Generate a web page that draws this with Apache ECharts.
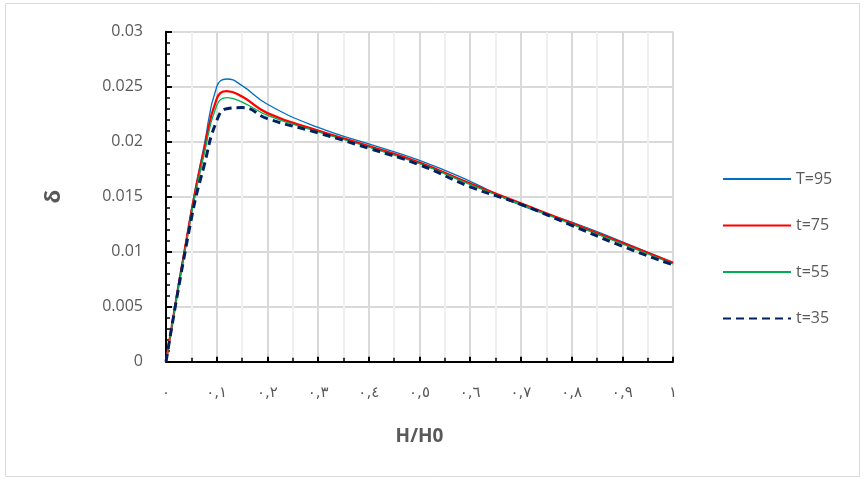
<!DOCTYPE html>
<html>
<head>
<meta charset="utf-8">
<script src="https://cdn.jsdelivr.net/npm/echarts@6/dist/echarts.min.js"></script>
<style>
  html, body { margin: 0; padding: 0; background: #fff; }
  #chart { width: 866px; height: 481px; }
</style>
</head>
<body>
<div id="chart"></div>
<script>
// H/H0 positions where the curves were sampled
const hRatio = [0, 0.05, 0.075, 0.1, 0.12, 0.15, 0.2, 0.3, 0.4, 0.5, 0.6, 0.7, 0.8, 0.9, 1.0];

// δ for each temperature
const deltaT95 = [0, 0.0138, 0.0196, 0.0250, 0.0257, 0.0251, 0.0234, 0.0213, 0.0198, 0.0183, 0.0164, 0.0142, 0.0127, 0.0109, 0.0090];
const deltaT75 = [0, 0.0136, 0.0192, 0.0239, 0.0246, 0.0241, 0.0226, 0.0210, 0.0196, 0.0181, 0.0162, 0.0144, 0.0126, 0.0108, 0.0090];
const deltaT55 = [0, 0.0134, 0.0188, 0.0233, 0.0240, 0.0236, 0.0224, 0.0209, 0.0195, 0.0180, 0.0161, 0.0143, 0.0125, 0.0107, 0.0089];
const deltaT35 = [0, 0.0130, 0.0178, 0.0219, 0.0230, 0.0231, 0.0221, 0.0208, 0.0194, 0.0179, 0.0159, 0.0143, 0.0124, 0.0105, 0.0088];

const seriesNames = ['T=95', 't=75', 't=55', 't=35'];

// x tick labels in Arabic-Indic digits
const xTickLabels = ['٠', '٠,١', '٠,٢', '٠,٣', '٠,٤', '٠,٥', '٠,٦', '٠,٧', '٠,٨', '٠,٩', '١'];

const pairs = ys => hRatio.map((x, i) => [x, ys[i]]);
const textColor = '#595959';

const chart = echarts.init(document.getElementById('chart'));
chart.setOption({
  animation: false,
  backgroundColor: '#fff',
  graphic: [{
    type: 'rect',
    shape: { x: 5.5, y: 3.5, width: 854, height: 473 },
    style: { fill: 'none', stroke: '#d9d9d9', lineWidth: 1 },
    silent: true
  }],
  grid: { left: 166, right: 193, top: 31.7, bottom: 119.3, containLabel: false },
  legend: {
    orient: 'vertical',
    left: 717,
    top: 166,
    itemWidth: 68,
    itemHeight: 14,
    itemGap: 30.5,
    itemStyle: { opacity: 0 },
    textStyle: { color: textColor, fontSize: 16, fontFamily: 'Open Sans' },
    data: seriesNames
  },
  xAxis: {
    type: 'value',
    min: 0,
    max: 1,
    interval: 0.1,
    name: 'H/H0',
    nameLocation: 'middle',
    nameGap: 65,
    nameTextStyle: { color: textColor, fontSize: 19, fontWeight: 'bold', fontFamily: 'Open Sans' },
    axisLine: { show: true, lineStyle: { color: '#000', width: 2 } },
    axisTick: { show: true, inside: true, length: 5, lineStyle: { color: '#000', width: 2 } },
    minorTick: { show: true, splitNumber: 2, length: 4, lineStyle: { color: '#000', width: 1.5 } },
    axisLabel: {
      color: textColor,
      fontSize: 15,
      fontFamily: 'DejaVu Sans',
      margin: 24,
      formatter: v => xTickLabels[Math.round(v * 10)]
    },
    splitLine: { show: true, lineStyle: { color: '#d9d9d9', width: 2 } },
    minorSplitLine: { show: true, lineStyle: { color: '#f0f0f0', width: 2 } }
  },
  yAxis: {
    type: 'value',
    min: 0,
    max: 0.03,
    interval: 0.005,
    name: 'δ',
    nameLocation: 'middle',
    nameGap: 101,
    nameRotate: 90,
    nameTextStyle: { color: textColor, fontSize: 22, fontWeight: 'bold', fontFamily: 'Open Sans' },
    axisLine: { show: true, lineStyle: { color: '#000', width: 2 } },
    axisTick: { show: true, inside: true, length: 6, lineStyle: { color: '#000', width: 2 } },
    minorTick: { show: true, splitNumber: 5, length: 4, lineStyle: { color: '#000', width: 1.5 } },
    axisLabel: {
      color: textColor,
      fontSize: 16,
      fontFamily: 'Open Sans',
      margin: 23,
      formatter: v => String(parseFloat(v.toFixed(3)))
    },
    splitLine: { show: true, lineStyle: { color: '#d9d9d9', width: 2 } }
  },
  series: [
    {
      name: seriesNames[0], type: 'line', data: pairs(deltaT95),
      symbol: 'none', smooth: 0.5,
      lineStyle: { color: '#0070C0', width: 1.3 }, itemStyle: { color: '#0070C0' }
    },
    {
      name: seriesNames[1], type: 'line', data: pairs(deltaT75),
      symbol: 'none', smooth: 0.5,
      lineStyle: { color: '#FF0000', width: 2.3 }, itemStyle: { color: '#FF0000' }
    },
    {
      name: seriesNames[2], type: 'line', data: pairs(deltaT55),
      symbol: 'none', smooth: 0.5,
      lineStyle: { color: '#00B050', width: 1.3 }, itemStyle: { color: '#00B050' }
    },
    {
      name: seriesNames[3], type: 'line', data: pairs(deltaT35),
      symbol: 'none', smooth: 0.5,
      lineStyle: { color: '#002060', width: 3, type: [8, 5] }, itemStyle: { color: '#002060' }
    }
  ]
});
</script>
</body>
</html>
